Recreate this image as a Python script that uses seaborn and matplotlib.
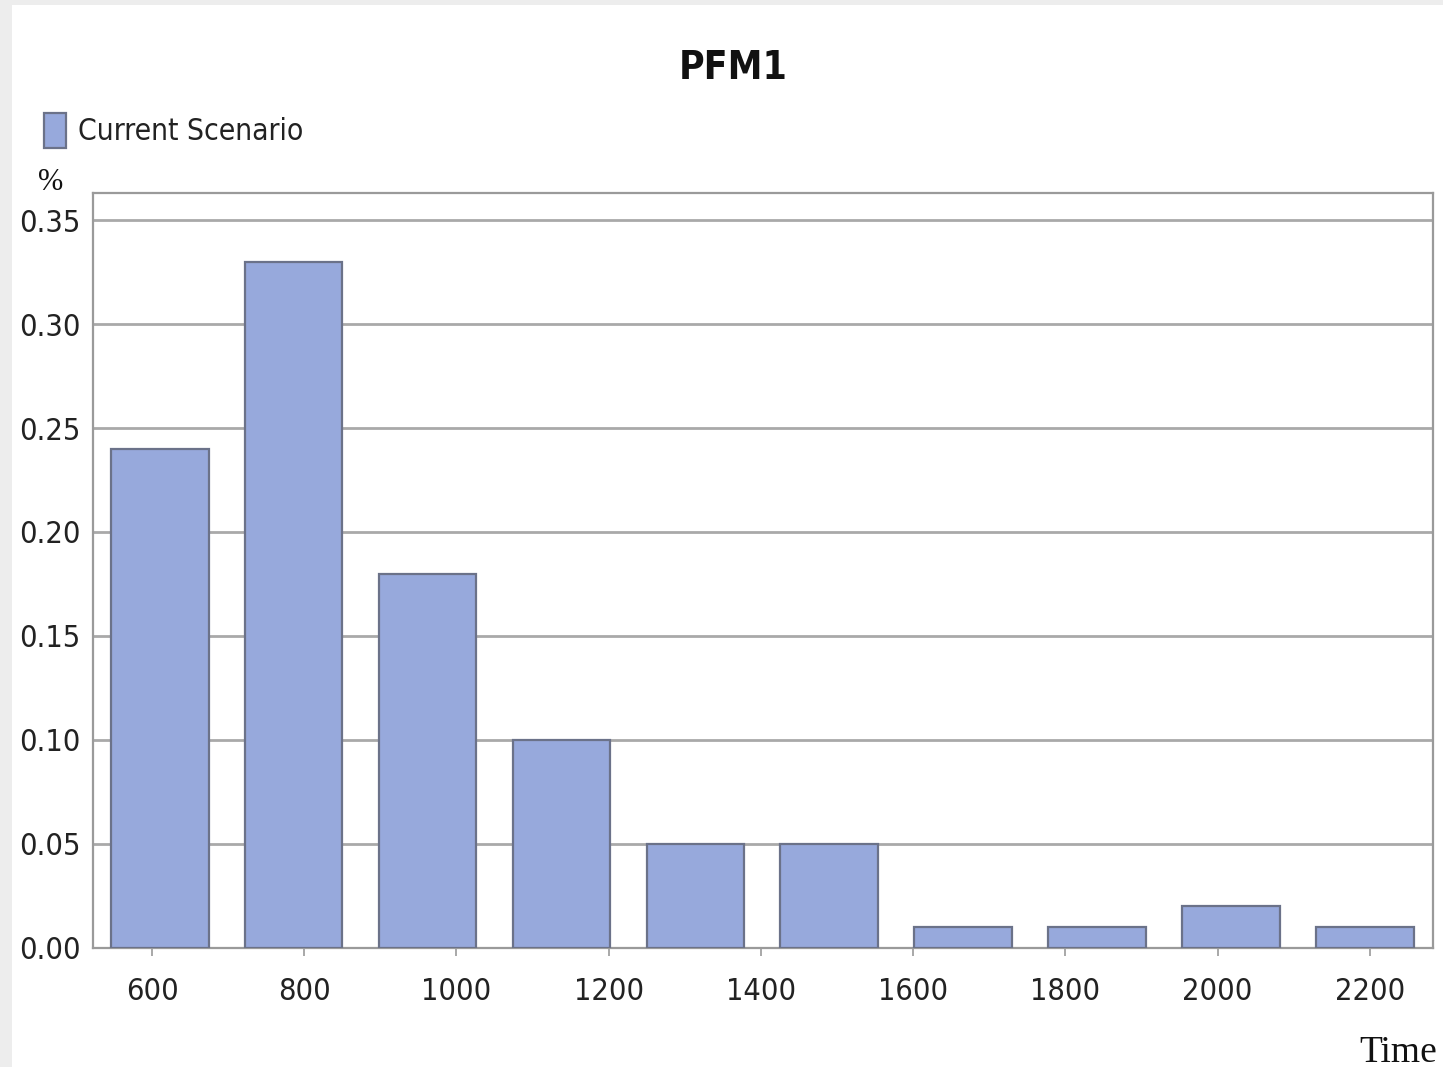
import matplotlib
matplotlib.use("Agg")
import matplotlib.pyplot as plt
from matplotlib.patches import Rectangle
import seaborn as sns
import pandas as pd

# Histogram bins (centre of each time bin) and share of runs per bin
bin_centers = [610, 786, 962, 1138, 1314, 1490, 1666, 1842, 2018, 2194]
shares = [0.24, 0.33, 0.18, 0.10, 0.05, 0.05, 0.01, 0.01, 0.02, 0.01]
x_ticks = [600, 800, 1000, 1200, 1400, 1600, 1800, 2000, 2200]
y_ticks = [0.00, 0.05, 0.10, 0.15, 0.20, 0.25, 0.30, 0.35]
series_name = "Current Scenario"
title = "PFM1"

df = pd.DataFrame({"Time": bin_centers, "share": shares})

sns.set_theme(style="white")
sans = ["DejaVu Sans"]
serif = ["Liberation Serif", "DejaVu Serif"]
plt.rcParams["font.family"] = sans
plt.rcParams["font.stretch"] = "condensed"

bar_color = "#97A9DC"
edge_color = "#6B7289"
grid_color = "#A9A9A9"
spine_color = "#9A9A9A"
text_color = "#222222"

fig = plt.figure(figsize=(14.43, 10.67), dpi=100, facecolor="white")

# faint grey frame strip along the left and top edges
fig.patches.append(Rectangle((0, 0), 0.008, 1, transform=fig.transFigure,
                             facecolor="#EDEDED", edgecolor="none", zorder=0))
fig.patches.append(Rectangle((0, 0.995), 1, 0.005, transform=fig.transFigure,
                             facecolor="#EDEDED", edgecolor="none", zorder=0))

ax = fig.add_axes([0.0645, 0.1118, 0.9285, 0.7072])

sns.barplot(data=df, x="Time", y="share", native_scale=True, width=0.73,
            color=bar_color, saturation=1, edgecolor=edge_color,
            linewidth=1.6, label=series_name, ax=ax, zorder=3)
if ax.get_legend() is not None:
    ax.get_legend().remove()

ax.set_xlim(522.5, 2283)
ax.set_ylim(0, 0.363)
ax.set_xticks(x_ticks)
ax.set_xticklabels([str(t) for t in x_ticks])
ax.set_yticks(y_ticks)
ax.set_yticklabels([f"{t:.2f}" for t in y_ticks])
ax.tick_params(axis="x", length=6, width=1.2, color=spine_color, pad=15,
               labelsize=22, labelcolor=text_color, bottom=True)
ax.tick_params(axis="y", length=0, pad=9, labelsize=22, labelcolor=text_color)
for lab in ax.get_xticklabels() + ax.get_yticklabels():
    lab.set_fontstretch("condensed")

ax.set_axisbelow(True)
ax.yaxis.grid(True, color=grid_color, linewidth=2.0)
ax.xaxis.grid(False)
for s in ax.spines.values():
    s.set_visible(True)
    s.set_color(spine_color)
    s.set_linewidth(1.6)

ax.set_xlabel("")
ax.set_ylabel("")

fig.text(0.508, 0.936, title, ha="center", va="center", fontsize=28,
         fontweight="bold", fontstretch="condensed", color="#111111")

handles, labels = ax.get_legend_handles_labels()
leg = fig.legend(handles, labels, loc="upper left", bbox_to_anchor=(0.016, 0.914),
                 frameon=False, fontsize=21.5, handlelength=0.75,
                 handleheight=1.45, handletextpad=0.4, borderpad=0.2)
for t in leg.get_texts():
    t.set_fontstretch("condensed")
    t.set_color(text_color)

fig.text(0.035, 0.829, "%", ha="center", va="center", fontsize=22,
         family=serif, color="#111111")
fig.text(0.996, 0.005, "Time", ha="right", va="baseline", fontsize=27,
         family=serif, color="#111111")

fig.savefig("out.png", dpi=100, facecolor="white")
